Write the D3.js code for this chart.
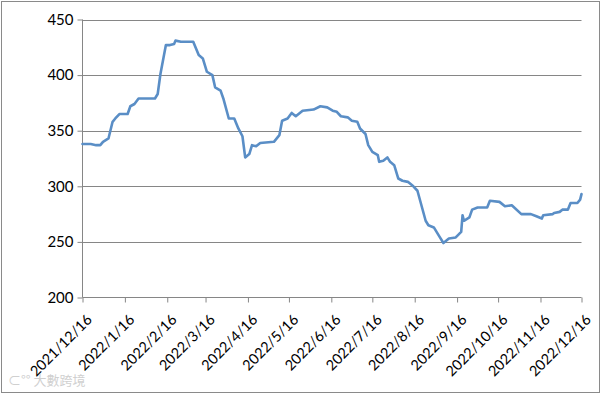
<!DOCTYPE html>
<html><head><meta charset="utf-8">
<script src="https://cdn.jsdelivr.net/npm/d3@7"></script>
<style>body{margin:0;background:#fff}svg{display:block}</style>
</head><body><svg id="c" width="602" height="395"></svg>
<script>
const dates = ["2021-12-16","2021-12-22","2021-12-26","2021-12-29","2021-12-31","2022-01-04","2022-01-07","2022-01-09","2022-01-12","2022-01-18","2022-01-20","2022-01-23","2022-01-26","2022-01-30","2022-02-07","2022-02-09","2022-02-11","2022-02-15","2022-02-18","2022-02-21","2022-02-22","2022-02-26","2022-03-07","2022-03-11","2022-03-14","2022-03-17","2022-03-21","2022-03-23","2022-03-27","2022-03-29","2022-04-02","2022-04-06","2022-04-09","2022-04-12","2022-04-14","2022-04-17","2022-04-19","2022-04-22","2022-04-25","2022-05-05","2022-05-09","2022-05-11","2022-05-15","2022-05-18","2022-05-21","2022-05-26","2022-06-03","2022-06-08","2022-06-13","2022-06-17","2022-06-20","2022-06-23","2022-06-28","2022-07-01","2022-07-05","2022-07-07","2022-07-11","2022-07-13","2022-07-16","2022-07-20","2022-07-21","2022-07-24","2022-07-27","2022-07-29","2022-08-01","2022-08-04","2022-08-07","2022-08-11","2022-08-15","2022-08-18","2022-08-24","2022-08-26","2022-08-30","2022-09-03","2022-09-06","2022-09-10","2022-09-15","2022-09-19","2022-09-20","2022-09-21","2022-09-25","2022-09-27","2022-10-01","2022-10-08","2022-10-10","2022-10-17","2022-10-21","2022-10-26","2022-11-02","2022-11-09","2022-11-13","2022-11-17","2022-11-18","2022-11-25","2022-11-26","2022-11-30","2022-12-02","2022-12-06","2022-12-08","2022-12-13","2022-12-15","2022-12-16"];
const values = [338,338,337,337,340,343,358,361,365,365,372,374,379,379,379,383,401,427,427,428,431,430,430,418,415,403,400,389,386,379,361,361,352,345,326,329,337,336,339,340,346,359,361,366,363,368,369,372,371,368,367,363,362,359,358,352,347,337,331,328,322,323,326,322,319,307,305,304,300,296,269,265,263,255,249,253,254,259,274,269,272,279,281,281,287,286,282,283,275,275,273,271,274,275,276,277,279,279,285,285,288,293];
const yTicks = [200,250,300,350,400,450];
const xTickDates = ["2021-12-16","2022-01-16","2022-02-16","2022-03-16","2022-04-16","2022-05-16","2022-06-16","2022-07-16","2022-08-16","2022-09-16","2022-10-16","2022-11-16","2022-12-16"];

const parse = d3.timeParse("%Y-%m-%d");
const fmt = d3.timeFormat("%Y/%-m/%-d");
const data = dates.map((d,i)=>({date:parse(d), v:values[i]}));
const svg = d3.select("#c");
const font = "Lato, 'Open Sans', sans-serif";

svg.append("rect").attr("x",1.5).attr("y",1.5).attr("width",598).attr("height",391)
  .attr("fill","#fff").attr("stroke","#8a8a8a").attr("stroke-width",1);

const x = d3.scaleTime().domain([parse("2021-12-16"), parse("2022-12-16")]).range([82.5,581.5]);
const y = d3.scaleLinear().domain([200,450]).range([297.5,19.5]);

// gridlines
svg.append("g").selectAll("line").data(yTicks.slice(1)).join("line")
  .attr("x1",82.5).attr("x2",581.5).attr("y1",d=>Math.round(y(d))+0.5).attr("y2",d=>Math.round(y(d))+0.5)
  .attr("stroke","#868686").attr("stroke-width",1);

// y axis
const ya = svg.append("g").attr("transform","translate(82.5,0)")
  .call(d3.axisLeft(y).tickValues(yTicks).tickSize(5).tickPadding(4));
ya.select(".domain").attr("stroke","#868686").attr("d","M0,19.5V297.5");
ya.selectAll(".tick line").attr("stroke","#868686");
ya.selectAll("text").attr("font-family",font).attr("font-size","15px").attr("fill","#000");

// x axis
const xa = svg.append("g").attr("transform","translate(0,297.5)")
  .call(d3.axisBottom(x).tickValues(xTickDates.map(parse)).tickFormat(fmt).tickSize(5));
xa.select(".domain").attr("stroke","#868686").attr("d","M82.5,0H581.5");
xa.selectAll(".tick line").attr("stroke","#868686");
xa.selectAll(".tick text").attr("font-family",font).attr("font-size","14.5px").attr("fill","#000")
  .attr("text-anchor","end").attr("dy",null).attr("y",0)
  .attr("transform","translate(10,23) rotate(-45)");

// line
svg.append("path").datum(data)
  .attr("fill","none").attr("stroke","#5a8ec6").attr("stroke-width",2.6)
  .attr("stroke-linejoin","round").attr("stroke-linecap","round")
  .attr("d", d3.line().x(d=>x(d.date)).y(d=>y(d.v)));

// watermark
svg.append("text").attr("x",8).attr("y",385).attr("font-family","'Noto Sans CJK SC', sans-serif")
  .attr("font-size","13px").attr("fill","#d0d0d0").text("⊂°° 大數跨境");
</script></body></html>
